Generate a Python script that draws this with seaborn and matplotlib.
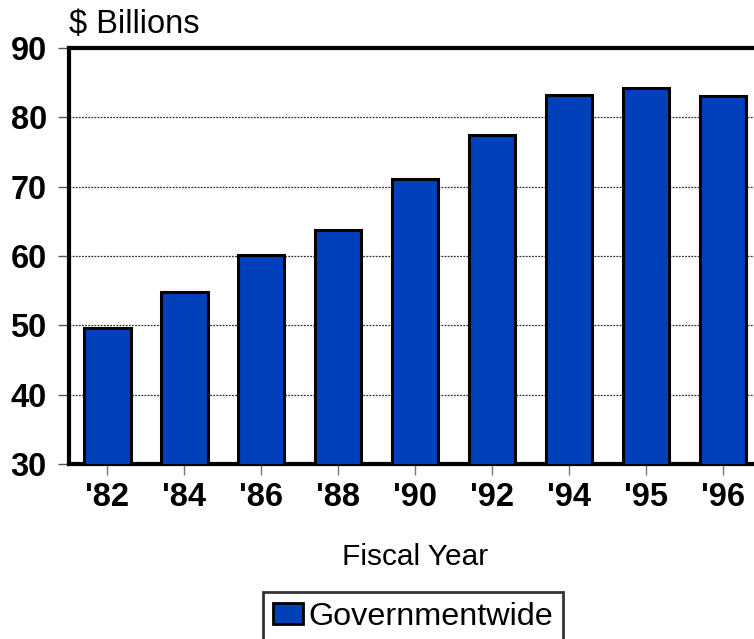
import matplotlib
matplotlib.use("Agg")
import matplotlib.pyplot as plt
import seaborn as sns
import pandas as pd

# dati
anni = ["'82", "'84", "'86", "'88", "'90", "'92", "'94", "'95", "'96"]
miliardi = [49.6, 54.8, 60.2, 63.7, 71.1, 77.4, 83.2, 84.3, 83.1]
serie = "Governmentwide"
y_ticks = [30, 40, 50, 60, 70, 80, 90]

df = pd.DataFrame({"anno": anni, "valore": miliardi, "serie": serie})

sns.set_style("white")
plt.rcParams["font.family"] = ["Liberation Sans", "DejaVu Sans"]
plt.rcParams["text.color"] = "black"

blu = "#0040bb"
fig = plt.figure(figsize=(7.54, 6.39), dpi=100)
ax = fig.add_axes([69 / 754, 1 - 464 / 639, 1 - 69 / 754 + 0.01, (464 - 48) / 639])

sns.barplot(data=df, x="anno", y="valore", hue="serie", palette=[blu],
            width=0.6, edgecolor="black", linewidth=2.2, saturation=1,
            legend=False, ax=ax, zorder=3)

ax.set_ylim(30, 90)
ax.set_xlim(-0.5, 8.5)
ax.set_yticks(y_ticks)
ax.set_yticklabels([str(v) for v in y_ticks], fontsize=23.5, fontweight="bold")
ax.set_xticks(range(len(anni)))
ax.set_xticklabels(anni, fontsize=23.5, fontweight="bold")
ax.tick_params(axis="y", length=8, width=1, color="#555555", pad=8, left=True,
               labelcolor="black")
ax.tick_params(axis="x", length=8, width=1, color="#777777", pad=5, bottom=True,
               labelcolor="black")

for v in y_ticks[1:-1]:
    ax.axhline(v, color="#333333", linestyle=(0, (1.5, 1)), linewidth=0.9, zorder=1)

for lato in ["top", "left", "bottom"]:
    ax.spines[lato].set_visible(True)
    ax.spines[lato].set_color("black")
    ax.spines[lato].set_linewidth(3)
ax.spines["right"].set_visible(False)

ax.set_xlabel("")
ax.set_ylabel("")
fig.text(69 / 754, 1 - 33 / 639, "$ Billions", fontsize=23.5, ha="left", va="baseline")
fig.text(415 / 754, 1 - 565 / 639, "Fiscal Year", fontsize=21.5, ha="center", va="baseline")

handle = plt.Rectangle((0, 0), 1, 1, facecolor=blu, edgecolor="black", linewidth=2)
leg = fig.legend([handle], [serie], loc="upper left", bbox_to_anchor=(263 / 754, 1 - 592 / 639),
                 fontsize=23.3, frameon=True, fancybox=False, handlelength=0.95,
                 handleheight=0.65, handletextpad=0.15, borderpad=0.3, borderaxespad=0)
leg.get_frame().set_edgecolor("black")
leg.get_frame().set_linewidth(2)

fig.savefig("out.png", dpi=100)
